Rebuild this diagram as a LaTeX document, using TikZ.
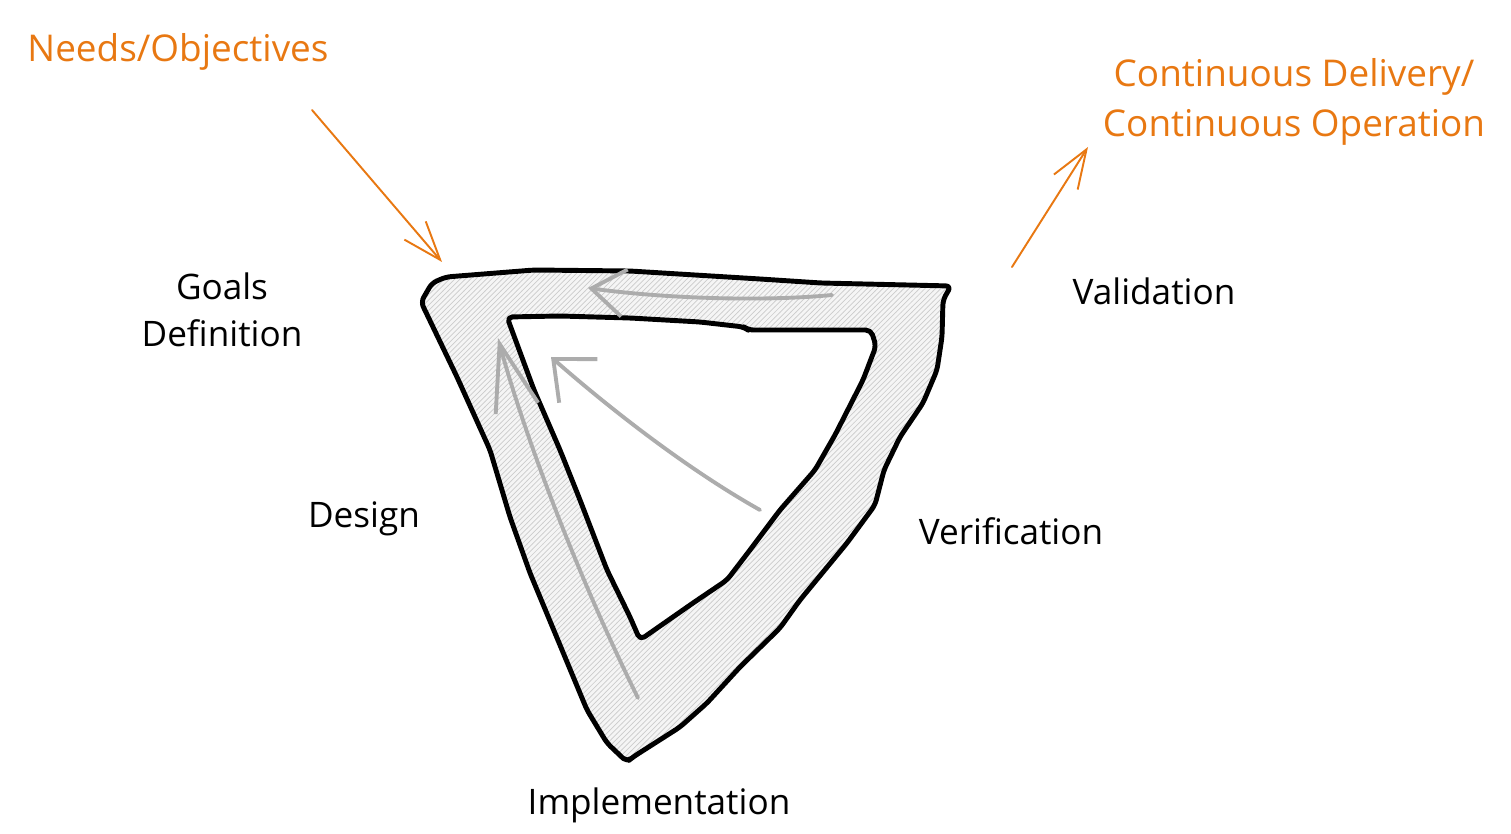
\documentclass[tikz,border=0pt]{standalone}
\usepackage{fontspec}
\setmainfont{Open Sans}
\usetikzlibrary{arrows.meta,patterns}
\definecolor{needorange}{RGB}{232,120,18}
\definecolor{flowgray}{RGB}{172,172,172}
\tikzset{
  phase/.style={font=\fontsize{20}{27}\selectfont, align=center, inner sep=1pt},
  goal/.style={phase, font=\fontsize{21}{28}\selectfont, text=needorange},
  band/.style={preaction={fill=gray!8},
    preaction={pattern=north east lines, pattern color=gray!40}},
  edge/.style={draw=black, line width=2.8pt, line join=round, rounded corners=3pt},
  flow/.style={draw=flowgray, line width=2.2pt, line cap=round},
  feed/.style={draw=needorange, line width=1.1pt, line cap=round,
    -{Straight Barb[length=22pt,width=16pt]}}
}
\begin{document}
\begin{tikzpicture}[x=0.02cm, y=-0.02cm]
  \useasboundingbox (0,0) rectangle (1511,834);

  % outer band
  \draw[band, edge]
  (421,302) -- (432,283) -- (446,277) -- (534,270) -- (630,271) -- (760,279)
  -- (821,283) -- (951,286) -- (943,300) -- (942,337) -- (937,370) -- (923,403)
  -- (900,437) -- (884,470) -- (875,505) -- (847,543) -- (800,600) -- (780,628)
  -- (740,667) -- (707,703) -- (680,727) -- (633,757) -- (627,762) -- (607,743)
  -- (587,710) -- (530,573) -- (510,517) -- (490,450) -- (457,377) -- cycle;
  % inner hole
  \filldraw[edge, fill=white]
  (507,317) -- (560,316) -- (630,318) -- (700,322) -- (744,327) -- (748,330)
  -- (871,330) -- (876,346) -- (863,380) -- (835,435) -- (815,470) -- (780,510)
  -- (750,550) -- (727,580) -- (693,603) -- (640,640) -- (630,617) -- (607,570)
  -- (580,500) -- (560,450) -- (534,390) -- cycle;

  % flow inside the band
  \draw[flow, -{Straight Barb[length=19pt,width=27pt]}]
  (832,295) .. controls (760,302) and (660,298) .. (588,288);
  \draw[flow, -{Straight Barb[length=38pt,width=25pt]}]
  (638,698) .. controls (570,560) and (520,420) .. (498,338);
  \draw[flow, -{Straight Barb[length=19pt,width=33pt]}]
  (760,510) .. controls (680,465) and (600,400) .. (551,357);

  % phases
  \node[phase] (goals) at (222,310) {Goals\\Definition};
  \node[phase] (design) at (364,519) {Design};
  \node[phase] (impl) at (659,805) {Implementation};
  \node[phase] (verif) at (1011,531) {Verification};
  \node[phase] (valid) at (1154,291) {Validation};

  % inputs and outputs
  \node[goal] (needs) at (178,52) {Needs/Objectives};
  \node[goal] (delivery) at (1294,102) {Continuous Delivery/\\Continuous Operation};
  \coordinate (needsend) at (312,110);
  \coordinate (bandin) at (442,262);
  \coordinate (bandout) at (1012,267);
  \coordinate (deliveryend) at (1088,147);
  \draw[feed] (needsend) -- (bandin);
  \draw[feed] (bandout) -- (deliveryend);
\end{tikzpicture}
\end{document}
